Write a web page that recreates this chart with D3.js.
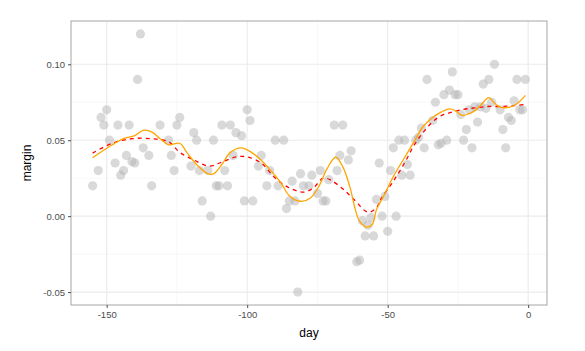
<!DOCTYPE html>
<html>
<head>
<meta charset="utf-8">
<script src="https://cdn.jsdelivr.net/npm/d3@7"></script>
<style>
  body { margin: 0; background: #fff; }
  svg { display: block; font-family: "Liberation Sans", Arial, sans-serif; }
</style>
</head>
<body>
<svg width="585" height="351"></svg>
<script>
// точки: день и маржа
const days = [-155,-153,-152,-151,-150,-149,-147,-146,-145,-144,-143,-142,-141,-140,-139,-138,-137,-135,-134,-131,
  -128,-127,-126,-125,-124,-120,-119,-118,-117,-116,-114,-113,-112,-111,-110,-109,-108,-107,-106,-105,
  -104,-102,-101,-100,-99,-98,-96,-95,-93,-92,-90,-89,-87,-86,-85,-84,-83,-82,-81,-80,
  -78,-77,-75,-74,-73,-72,-71,-69,-68,-67,-66,-64,-63,-61,-60,-59,-58,-57,-56,-55,
  -54,-53,-52,-51,-50,-49,-48,-47,-46,-45,-44,-43,-42,-40,-39,-38,-37,-36,-34,-33,
  -32,-31,-30,-29,-28,-27,-26,-25,-24,-23,-22,-21,-20,-19,-18,-17,-16,-15,-14,-13,
  -12,-10,-9,-8,-7,-6,-5,-4,-3,-2,-1];
const margins = [0.020,0.030,0.065,0.060,0.070,0.050,0.035,0.060,0.027,0.030,0.040,0.060,0.036,0.035,0.090,0.120,0.045,0.040,0.020,0.060,
  0.050,0.040,0.030,0.060,0.065,0.033,0.055,0.050,0.030,0.010,0.030,0.000,0.050,0.020,0.020,0.060,0.030,0.020,0.060,0.040,
  0.055,0.053,0.010,0.070,0.063,0.010,0.033,0.040,0.020,0.030,0.050,0.020,0.050,0.005,0.010,0.023,0.010,-0.050,0.028,0.020,
  0.020,0.027,0.015,0.030,0.010,0.010,0.024,0.060,0.030,0.040,0.060,0.037,0.043,-0.030,-0.029,-0.003,-0.013,-0.006,-0.001,-0.013,
  0.011,0.035,0.000,0.013,-0.010,0.030,0.045,0.000,0.050,0.027,0.050,0.034,0.027,0.050,0.052,0.058,0.045,0.090,0.063,0.075,
  0.047,0.048,0.080,0.050,0.083,0.095,0.080,0.080,0.067,0.050,0.057,0.070,0.045,0.072,0.062,0.072,0.087,0.071,0.090,0.075,
  0.100,0.070,0.057,0.045,0.065,0.063,0.076,0.090,0.070,0.070,0.090];

// сглаживание (сплошная оранжевая)
const orangeDays = [-155,-148,-144,-140,-137,-134,-131,-128,-124,-121.5,-118,-114,-112,-109,-106,-102,-98.5,-95,
  -92,-88,-85,-81,-77.5,-74.5,-71.5,-68.5,-66,-63.5,-61.5,-60,-57.5,-55.5,-54,-51.5,-48,-44.5,-41,-37.5,
  -34,-31,-28,-26,-23.5,-21,-19,-17,-14,-12,-10,-6.5,-4,-1];
const orangeVals = [0.0385,0.047,0.051,0.053,0.0565,0.0555,0.051,0.047,0.048,0.042,0.034,0.028,0.0278,0.034,0.042,0.045,0.042,0.0368,
  0.031,0.022,0.0135,0.0098,0.012,0.0196,0.0315,0.0388,0.0326,0.0196,0.0043,-0.0033,-0.0072,-0.0055,0.0043,0.013,0.026,0.037,0.0478,0.0587,
  0.065,0.0685,0.0707,0.0695,0.0664,0.0675,0.0695,0.0728,0.078,0.0745,0.0718,0.0718,0.074,0.0795];

// сглаживание (красная пунктирная)
const redDays = [-155,-148,-141,-134,-128,-124,-119,-113.5,-108.5,-104,-100,-95,-90.5,-86,-80,-76.5,-73,-70.5,
  -66,-62,-57,-54,-52.5,-48,-44,-40.5,-37,-33.5,-30,-27,-24,-19,-14.5,-10,-5,-1];
const redVals = [0.0415,0.048,0.051,0.051,0.049,0.042,0.037,0.033,0.036,0.039,0.039,0.035,0.026,0.0196,0.0158,0.0185,0.025,0.024,
  0.018,0.011,0.0026,0.0055,0.011,0.023,0.035,0.047,0.056,0.063,0.067,0.0685,0.070,0.0713,0.0722,0.0722,0.0728,0.0735];

const xTicks = [-150, -100, -50, 0];
const xMinor = [-125, -75, -25];
const yTicks = [-0.05, 0, 0.05, 0.10];
const yMinor = [-0.025, 0.025, 0.075];

const svg = d3.select("svg");

// область графика
const area = { left: 71, right: 547, top: 21, bottom: 305 };

const scX = d3.scaleLinear()
  .domain([-162.7, 6.7])
  .range([area.left, area.right]);
const scY = d3.scaleLinear()
  .domain([-0.0585, 0.1285])
  .range([area.bottom, area.top]);

// сетка
const grid = svg.append("g");
grid.selectAll(".ym").data(yMinor).enter().append("line")
  .attr("x1", area.left).attr("x2", area.right)
  .attr("y1", d => scY(d)).attr("y2", d => scY(d))
  .style("stroke", "#f2f2f2").style("stroke-width", 0.6);
grid.selectAll(".xm").data(xMinor).enter().append("line")
  .attr("y1", area.top).attr("y2", area.bottom)
  .attr("x1", d => scX(d)).attr("x2", d => scX(d))
  .style("stroke", "#f2f2f2").style("stroke-width", 0.6);
grid.selectAll(".yM").data(yTicks).enter().append("line")
  .attr("x1", area.left).attr("x2", area.right)
  .attr("y1", d => scY(d)).attr("y2", d => scY(d))
  .style("stroke", "#ebebeb").style("stroke-width", 1.1);
grid.selectAll(".xM").data(xTicks).enter().append("line")
  .attr("y1", area.top).attr("y2", area.bottom)
  .attr("x1", d => scX(d)).attr("x2", d => scX(d))
  .style("stroke", "#ebebeb").style("stroke-width", 1.1);

// точки
svg.append("g").selectAll("circle")
  .data(days.map((d, i) => [d, margins[i]]))
  .enter()
  .append("circle")
  .attr("cx", d => scX(d[0]))
  .attr("cy", d => scY(d[1]))
  .attr("r", 4.6)
  .style("fill", "#b3b3b3")
  .style("opacity", 0.5);

const line = d3.line()
  .x(d => scX(d[0]))
  .y(d => scY(d[1]))
  .curve(d3.curveCatmullRom.alpha(0.5));

svg.append("path")
  .datum(redDays.map((d, i) => [d, redVals[i]]))
  .attr("d", line)
  .style("fill", "none")
  .style("stroke", "red")
  .style("stroke-width", 1.3)
  .style("stroke-dasharray", "4,4");

svg.append("path")
  .datum(orangeDays.map((d, i) => [d, orangeVals[i]]))
  .attr("d", line)
  .style("fill", "none")
  .style("stroke", "orange")
  .style("stroke-width", 1.3);

// рамка
svg.append("rect")
  .attr("x", area.left).attr("y", area.top)
  .attr("width", area.right - area.left).attr("height", area.bottom - area.top)
  .style("fill", "none").style("stroke", "#a6a6a6").style("stroke-width", 1);

// оси
const axisX = svg.append("g")
  .attr("transform", `translate(0, ${area.bottom})`)
  .call(d3.axisBottom(scX).tickValues(xTicks).tickSize(3).tickPadding(3).tickFormat(d3.format("d")));
const axisY = svg.append("g")
  .attr("transform", `translate(${area.left}, 0)`)
  .call(d3.axisLeft(scY).tickValues(yTicks).tickSize(3).tickPadding(3).tickFormat(d3.format(".2f")));

[axisX, axisY].forEach(ax => {
  ax.select(".domain").remove();
  ax.selectAll("line").style("stroke", "#4d4d4d");
  ax.selectAll("text").style("fill", "#4d4d4d").style("font-size", "9.5px")
    .style("font-family", "Liberation Sans, Arial, sans-serif");
});
axisX.selectAll("text").text(d => d === 0 ? "0" : String(d).replace("-", "-"));
axisY.selectAll("text").text(d => d3.format(".2f")(d).replace("−", "-"));
axisX.selectAll("text").text(d => String(d));

// подписи осей
svg.append("text")
  .attr("x", (area.left + area.right) / 2)
  .attr("y", 337)
  .attr("text-anchor", "middle")
  .style("font-size", "12px")
  .style("fill", "#000")
  .text("day");
svg.append("text")
  .attr("transform", `translate(31, ${(area.top + area.bottom) / 2}) rotate(-90)`)
  .attr("text-anchor", "middle")
  .style("font-size", "12px")
  .style("fill", "#000")
  .text("margin");
</script>
</body>
</html>
